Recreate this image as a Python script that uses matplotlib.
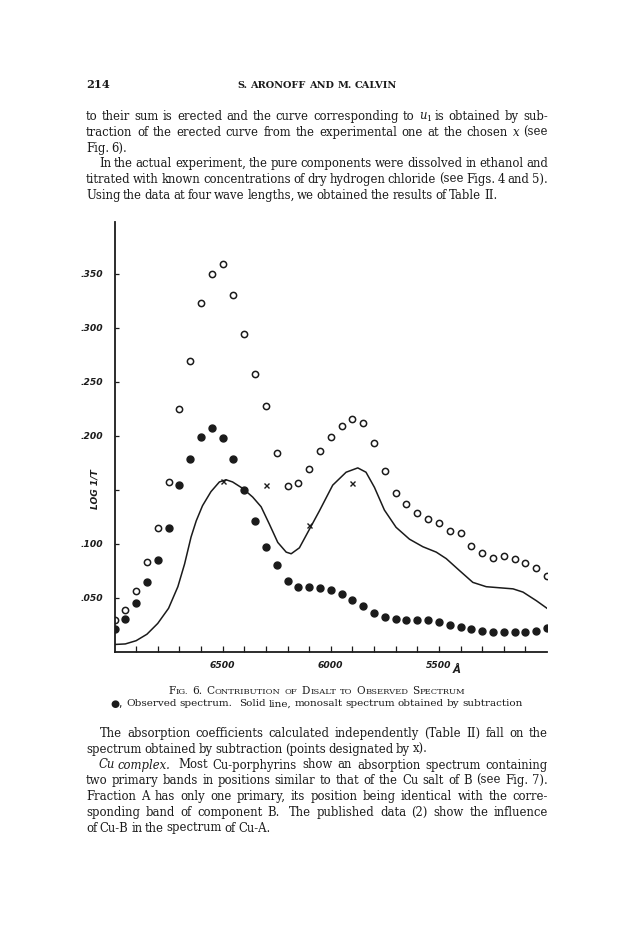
import numpy as np
import matplotlib
matplotlib.use("Agg")
import matplotlib.pyplot as plt
from matplotlib.font_manager import fontManager, FontProperties, get_font
from matplotlib.backends.backend_agg import get_hinting_flag

plt.rcParams["mathtext.fontset"] = "dejavuserif"

# wave length (A) of the plotted points
wave = [7000, 6950, 6900, 6850, 6800, 6750, 6700, 6650, 6600, 6550,
        6500, 6450, 6400, 6350, 6300, 6250, 6200, 6150, 6100, 6050,
        6000, 5950, 5900, 5850, 5800, 5750, 5700, 5650, 5600, 5550,
        5500, 5450, 5400, 5350, 5300, 5250, 5200, 5150, 5100, 5050, 5000]
# open circles
open_pts = [0.029, 0.038, 0.056, 0.083, 0.114, 0.157, 0.225, 0.269, 0.323, 0.350,
            0.359, 0.330, 0.294, 0.257, 0.227, 0.184, 0.153, 0.156, 0.169, 0.186,
            0.199, 0.209, 0.215, 0.212, 0.193, 0.167, 0.147, 0.137, 0.128, 0.123,
            0.119, 0.112, 0.110, 0.098, 0.091, 0.087, 0.088, 0.086, 0.082, 0.077, 0.070]
# filled circles, observed spectrum
observed = [0.021, 0.030, 0.045, 0.064, 0.085, 0.114, 0.154, 0.178, 0.199, 0.207,
            0.198, 0.178, 0.150, 0.121, 0.097, 0.080, 0.065, 0.060, 0.060, 0.059,
            0.057, 0.053, 0.048, 0.042, 0.036, 0.032, 0.030, 0.029, 0.029, 0.029,
            0.027, 0.025, 0.023, 0.021, 0.019, 0.018, 0.018, 0.018, 0.018, 0.019, 0.022]
# x points (Table II)
cross_wave = [6500, 6300, 6100, 5900]
cross_vals = [0.158, 0.154, 0.117, 0.156]
# solid line, monosalt spectrum
line_wave = [7000, 6950, 6900, 6850, 6800, 6750, 6707, 6676, 6646, 6622,
             6593, 6554, 6515, 6484, 6454, 6407, 6361, 6322, 6284, 6245,
             6206, 6183, 6145, 6099, 6053, 5991, 5929, 5875, 5837, 5798,
             5752, 5698, 5636, 5574, 5512, 5466, 5405, 5343, 5281, 5219,
             5157, 5111, 5049, 5000]
line_vals = [0.0065, 0.007, 0.010, 0.016, 0.026, 0.040, 0.060, 0.081, 0.106, 0.121,
             0.135, 0.148, 0.157, 0.159, 0.157, 0.151, 0.143, 0.134, 0.118, 0.101,
             0.092, 0.0905, 0.096, 0.113, 0.130, 0.154, 0.166, 0.170, 0.166, 0.152,
             0.131, 0.115, 0.104, 0.097, 0.092, 0.086, 0.075, 0.064, 0.060, 0.059,
             0.058, 0.055, 0.047, 0.040]

yticks = [0.05, 0.10, 0.15, 0.20, 0.25, 0.30, 0.35]
ytick_labels = [".050", ".100", "", ".200", ".250", ".300", ".350"]
xticks = [6500, 6000, 5500]
xtick_labels = ["6500", "6000", "5500"]

# page text
header = "S. ARONOFF AND M. CALVIN"
top_lines = [
    "to their sum is erected and the curve corresponding to $u_1$ is obtained by sub-",
    "traction of the erected curve from the experimental one at the chosen $x$ (see",
    "Fig. 6).",
    "In the actual experiment, the pure components were dissolved in ethanol and",
    "titrated with known concentrations of dry hydrogen chloride (see Figs. 4 and 5).",
    "Using the data at four wave lengths, we obtained the results of Table II.",
]
cap2 = "Observed spectrum.  Solid line, monosalt spectrum obtained by subtraction"
low_lines = [
    "The absorption coefficients calculated independently (Table II) fall on the",
    "spectrum obtained by subtraction (points designated by x).",
    "Most Cu-porphyrins show an absorption spectrum containing",
    "two primary bands in positions similar to that of the Cu salt of B (see Fig. 7).",
    "Fraction A has only one primary, its position being identical with the corre-",
    "sponding band of component B.  The published data (2) show the influence",
    "of Cu-B in the spectrum of Cu-A.",
]
MATH = {"$u_1$": "u\u2081", "$x$": "x"}

W, H = 631, 932
INK = "#1b1b1b"
FAM = ["DejaVu Serif", "DejaVu Sans"]
TIGHT = 1.2  # px taken off every word space

fig = plt.figure(figsize=(W / 100, H / 100), dpi=100)
fig.patch.set_facecolor("white")
r = fig.canvas.get_renderer()


def mk(s, size, **kw):
    kw.setdefault("family", FAM)
    kw.setdefault("color", INK)
    return fig.text(0, 0, s, fontsize=size, va="baseline", ha="left", **kw)


def measure(s, size, **kw):
    t = mk(s, size, **kw)
    w = t.get_window_extent(r).width
    t.remove()
    return w


def text_at(x, y, s, size, **kw):
    t = mk(s, size, **kw)
    t.set_position((x / W, 1 - y / H))
    return t


def pen_x(s, size, **kw):
    # pen position of every character of the laid out string
    prop = FontProperties(family=kw.get("family", FAM), style=kw.get("style", "normal"),
                          weight=kw.get("weight", "normal"), size=size)
    font = get_font(fontManager._find_fonts_by_props(prop))
    font.clear()
    font.set_size(size, 100)
    xys = np.asarray(font.set_text(s, 0.0, flags=get_hinting_flag()), float).reshape(-1, 2)
    return xys[:, 0] / 64


def layout(s, size, **kw):
    toks = s.split(" ")
    lay = " ".join(MATH.get(t, t) for t in toks)
    px = pen_x(lay + " x", size, **kw)
    if len(px) < len(lay) + 2:
        px = [0.0] + [measure(lay[:k] + "x", size, **kw) - measure("x", size, **kw)
                      for k in range(1, len(lay) + 2)]
    words, starts, i = [], [], 0
    for t in toks:
        if t:
            words.append(t)
            starts.append(i)
        i += len(MATH.get(t, t)) + 1
    pos = [px[st] - px[0] for st in starts]
    end = px[len(lay)] - px[0]
    return words, pos, end


def wline(s, size, y, x0, x1=None, tight=TIGHT, **kw):
    # one text per word; justified between x0 and x1 when x1 is given
    words, pos, end = layout(s, size, **kw)
    n = len(words)
    g = -tight
    if x1 is not None and n > 1:
        g = (x1 - x0 - end) / (n - 1)
    for k, w in enumerate(words):
        text_at(x0 + pos[k] + g * k, y, w, size, **kw)


# ---- page header
text_at(86, 88.3, "214", 8.2, weight="bold")
hs = 7 * 160 / measure(header, 7, weight="bold")
wline(header, hs, 88.3, 237, tight=0.0, weight="bold")

# ---- body font size: as large as the justified lines allow
R = 548
just_lines = [(top_lines[0], 86), (top_lines[1], 86), (top_lines[3], 99), (top_lines[4], 86),
              (low_lines[0], 100), ("Cu complex.  " + low_lines[2], 99), (low_lines[3], 86),
              (low_lines[4], 86), (low_lines[5], 86)]
sizes = []
for s, x0 in just_lines:
    words, pos, end = layout(s, 10)
    sizes.append(10 * (R - x0 + (len(words) - 1) * TIGHT) / end)
_, _, end6 = layout(top_lines[5], 10)
bs = min(1.02 * 10 * 419 / end6, min(sizes))

top = [120.0 + 15.8 * i for i in range(6)]
wline(top_lines[0], bs, top[0], 86, R)
wline(top_lines[1], bs, top[1], 86, R)
wline(top_lines[2], bs, top[2], 86)
wline(top_lines[3], bs, top[3], 99, R)
wline(top_lines[4], bs, top[4], 86, R)
wline(top_lines[5], bs, top[5], 86)

# ---- the chart
L, Rt, T, B = 114.5, 547.0, 222.0, 651.5
ax = fig.add_axes([L / W, 1 - B / H, (Rt - L) / W, (B - T) / H])
ax.set_xlim(7000, 5000)
ax.set_ylim(0, (B - T) / 1080)
for s in ["top", "right"]:
    ax.spines[s].set_visible(False)
for s in ["left", "bottom"]:
    ax.spines[s].set_linewidth(1.3)
    ax.spines[s].set_color(INK)

ax.plot(line_wave, line_vals, "-", color=INK, lw=1.1)
ax.plot(wave, open_pts, "o", ls="none", mfc="white", mec=INK, ms=4.5, mew=1.1)
ax.plot(wave, observed, "o", ls="none", color=INK, ms=5.0)
ax.plot(cross_wave, cross_vals, "x", ls="none", color=INK, ms=3.6, mew=1.0)

tick_font = dict(family="DejaVu Sans", weight="bold", style="italic", size=6.6, color=INK)
ax.set_xticks(xticks)
ax.set_xticklabels(xtick_labels, fontdict=tick_font)
ax.set_xticks(list(range(6900, 5000, -100)), minor=True)
ax.set_yticks(yticks)
ax.set_yticklabels(ytick_labels, fontdict=tick_font)
ax.tick_params(axis="x", which="both", direction="in", length=4, width=0.9, color=INK, pad=7)
ax.tick_params(axis="y", which="both", direction="in", length=3, width=0.9, color=INK, pad=8)

ax.text(-0.045, 0.15, "LOG 1/T", transform=ax.get_yaxis_transform(), rotation=90,
        ha="center", va="center", family="DejaVu Sans", weight="bold", style="italic",
        size=6.6, color=INK)
text_at(453, 673, "Å", 7.5, family="DejaVu Sans", weight="bold", style="italic")

# ---- caption, first line in small capitals
big, small = 7.6, 6.0
cap1 = [("F", "IG."), ("6.", ""), ("C", "ONTRIBUTION"), ("", "OF"), ("D", "ISALT"),
        ("", "TO"), ("O", "BSERVED"), ("S", "PECTRUM")]
widths = []
for a, b in cap1:
    wa = measure(a, big) if a else 0.0
    wb = measure(b, small) if b else 0.0
    widths.append((wa, wb))
total = sum(wa + wb for wa, wb in widths)
gap = (465 - 168 - total) / (len(cap1) - 1)
x = 168.0
for (a, b), (wa, wb) in zip(cap1, widths):
    if a:
        text_at(x, 694.5, a, big)
    if b:
        text_at(x + wa + (0.6 if a else 0.0), 694.5, b, small)
    x += wa + wb + gap

_, _, end_c = layout(cap2, 10)
cs = 10 * 398 / end_c
text_at(110, 706.5, "●,", cs, family="DejaVu Sans")
wline(cap2, cs, 706.5, 110 + measure("●,", cs, family="DejaVu Sans") + 4, 523)

# ---- body text below the figure
low = [737.0 + 15.75 * i for i in range(7)]
wline(low_lines[0], bs, low[0], 100, R)
wline(low_lines[1], bs, low[1], 86)
wline("Cu complex.", bs, low[2], 99, style="italic")
_, _, end_it = layout("Cu complex.", bs, style="italic")
wline(low_lines[2], bs, low[2], 99 + end_it + 6, R)
wline(low_lines[3], bs, low[3], 86, R)
wline(low_lines[4], bs, low[4], 86, R)
wline(low_lines[5], bs, low[5], 86, R)
wline(low_lines[6], bs, low[6], 86)

fig.savefig("out.png", dpi=100, facecolor="white")
